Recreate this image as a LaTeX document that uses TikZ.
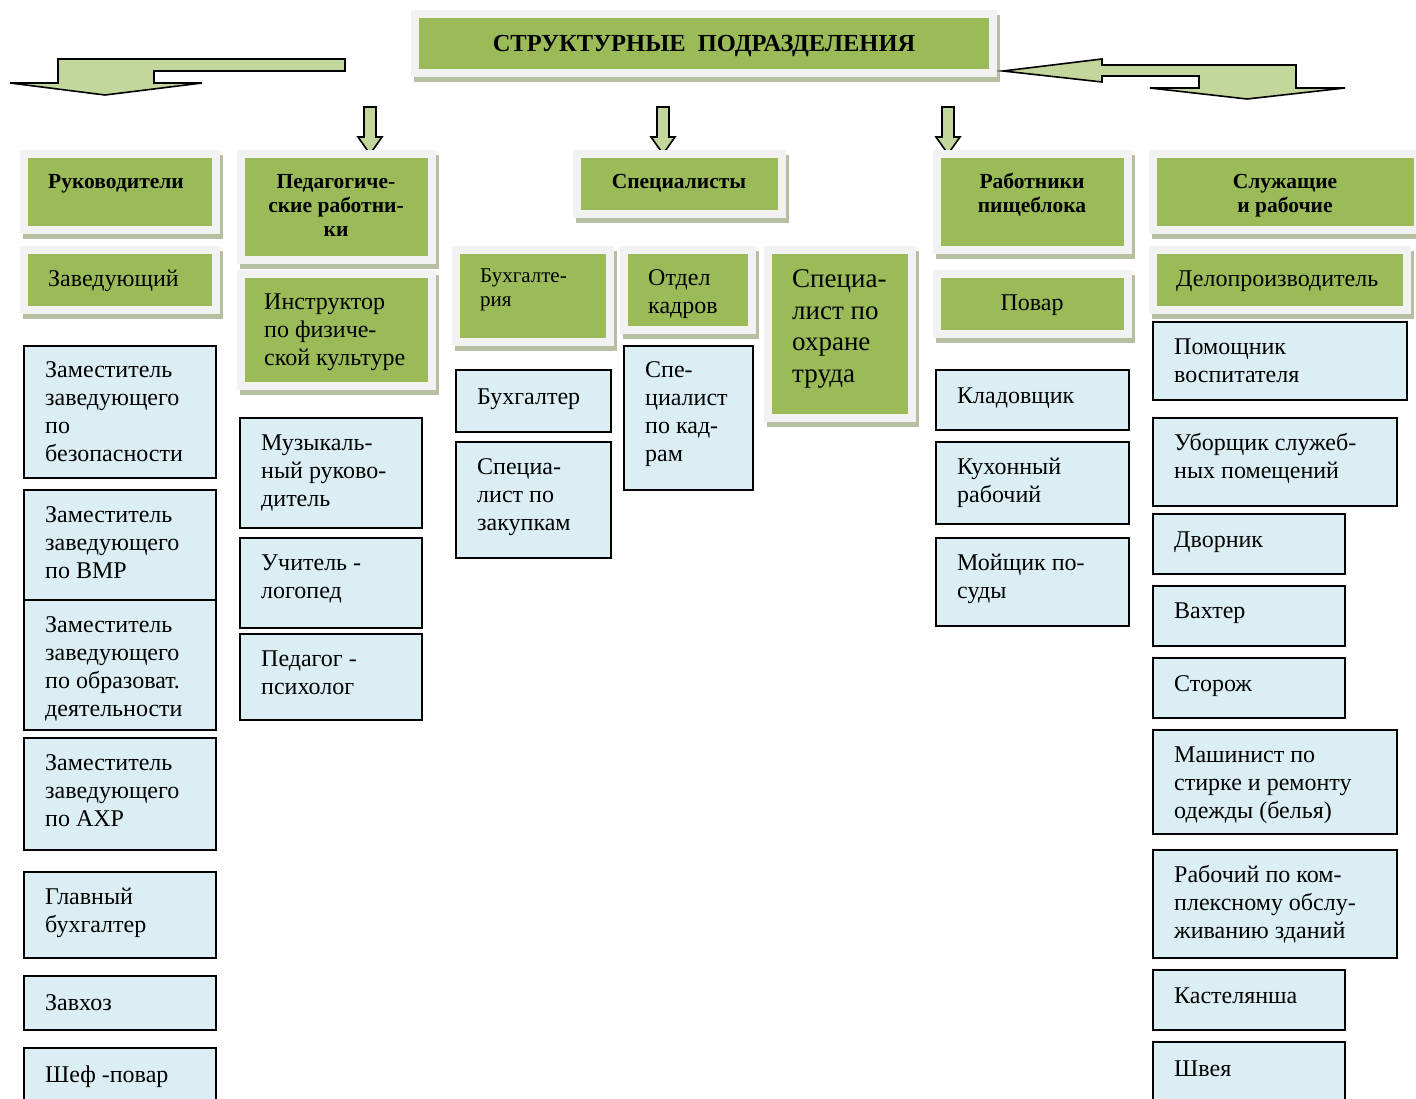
\documentclass[tikz,border=0pt]{standalone}
\usepackage{fontspec}
\setmainfont{Liberation Serif}
\usetikzlibrary{fit}
\definecolor{gr}{HTML}{9BBB59}
\definecolor{frm}{HTML}{F2F2F2}
\definecolor{shd}{HTML}{B7BFA2}
\definecolor{lgr}{HTML}{C3D69B}
\definecolor{bl}{HTML}{DAEEF3}
\tikzset{
  bluerect/.style={draw=black, line width=1.8pt, fill=bl, inner sep=0pt},
  greenrect/.style={fill=gr, inner sep=0pt},
  framerect/.style={fill=frm},
  shadowrect/.style={fill=shd},
  txt/.style={font=\fontsize{24}{27.7}\selectfont, align=left, inner sep=0pt, anchor=north west},
  hdr/.style={font=\bfseries\fontsize{21.5}{24}\selectfont, align=center, inner sep=0pt, anchor=north},
  arr/.style={draw=black, line width=1.6pt, fill=lgr, line join=miter},
}
\newcommand\bluebox[7]{%
  \node[bluerect, fit={(#2,#3) (#4,#5)}] (#1) {};
  \node[txt] (#1-t) at (#2+21,#6-16.6) {\strut#7};}
\newcommand\greenbox[5]{%
  \fill[shadowrect] (#2-5,#3-3) rectangle (#4+11,#5+13);
  \fill[framerect] (#2-8,#3-8) rectangle (#4+8,#5+8);
  \node[greenrect, fit={(#2,#3) (#4,#5)}] (#1) {};}
\newcommand\downarr[2]{%
  \draw[arr] (#2-6,107) -- (#2+6,107) -- (#2+6,137) -- (#2+12,137) -- (#2,154)
     -- (#2-12,137) -- (#2-6,137) -- cycle;
  \coordinate (#1) at (#2,154);}
\begin{document}
\begin{tikzpicture}[x=1pt,y=-1pt]
\useasboundingbox (0,0) rectangle (1416,1099);
\clip (0,0) rectangle (1416,1099);
% title
\greenbox{title}{419}{18}{989}{69}
\node[font=\bfseries\fontsize{24.5}{28}\selectfont, anchor=base, inner sep=0pt] (title-t) at (704,52) {СТРУКТУРНЫЕ\ \ ПОДРАЗДЕЛЕНИЯ};
% big arrows
\draw[arr] (345,59) -- (58,59) -- (58,83) -- (10,83) -- (105,95) -- (202,83)
   -- (154,83) -- (154,71) -- (345,71) -- cycle;
\draw[arr] (1003,71) -- (1102,59) -- (1102,65) -- (1296,65) -- (1296,88) -- (1345,88)
   -- (1247,99) -- (1150,88) -- (1199,88) -- (1199,76) -- (1102,76) -- (1102,82) -- cycle;
\downarr{a1}{370}
\downarr{a2}{663}
\downarr{a3}{948}
% headers
\greenbox{ruk}{28}{158}{212}{226}
\greenbox{ped}{245}{158}{428}{256}
\greenbox{spec}{581}{158}{778}{210}
\greenbox{pish}{941}{158}{1124}{246}
\greenbox{sluzh}{1157}{158}{1414}{226}
\node[hdr] (ruk-t) at (116,171.5) {\strut Руководители};
\node[hdr] (ped-t) at (336,171.5) {\strut Педагогиче-\\ские работни-\\ки};
\node[hdr] (spec-t) at (679,171.5) {\strut Специалисты};
\node[hdr] (pish-t) at (1032,171.5) {\strut Работники\\пищеблока};
\node[hdr] (sluzh-t) at (1285,171.5) {\strut Служащие\\и рабочие};
% second row green
\greenbox{zav}{28}{254}{212}{306}
\greenbox{instr}{245}{278}{428}{382}
\greenbox{buhg}{460}{254}{606}{338}
\greenbox{otdel}{628}{254}{748}{326}
\greenbox{ohr}{772}{254}{908}{414}
\greenbox{povar}{941}{278}{1124}{330}
\greenbox{delo}{1157}{254}{1403}{306}
\node[txt] (zav-t) at (48,267.4) {\strut Заведующий};
\node[txt] (instr-t) at (264,290.4) {\strut Инструктор\\по физиче-\\ской культуре};
\node[txt, font=\fontsize{21}{24.5}\selectfont] (buhg-t) at (480,265) {\strut Бухгалте-\\рия};
\node[txt] (otdel-t) at (648,266.4) {\strut Отдел\\кадров};
\node[txt, font=\fontsize{27}{31.5}\selectfont] (ohr-t) at (792,265.5) {\strut Специа-\\лист по\\охране\\труда};
\node[txt, anchor=north] (povar-t) at (1032,291.4) {\strut Повар};
\node[txt] (delo-t) at (1176,267.4) {\strut Делопроизводитель};
% left column
\bluebox{zam1}{24}{346}{216}{478}{375}{Заместитель\\заведующего\\по\\безопасности}
\bluebox{zam2}{24}{490}{216}{600}{520}{Заместитель\\заведующего\\по ВМР}
\bluebox{zam3}{24}{600}{216}{730}{630}{Заместитель\\заведующего\\по образоват.\\деятельности}
\bluebox{zam4}{24}{738}{216}{850}{768}{Заместитель\\заведующего\\по АХР}
\bluebox{glbuh}{24}{872}{216}{958}{902}{Главный\\бухгалтер}
\bluebox{zavhoz}{24}{976}{216}{1030}{1008}{Завхоз}
\bluebox{shef}{24}{1048}{216}{1120}{1080}{Шеф -повар}
% pedagogical column
\bluebox{muz}{240}{418}{422}{528}{448}{Музыкаль-\\ный руково-\\дитель}
\bluebox{logo}{240}{538}{422}{628}{568}{Учитель -\\логопед}
\bluebox{psih}{240}{634}{422}{720}{664}{Педагог -\\психолог}
% specialists
\bluebox{buh}{456}{370}{611}{432}{402}{Бухгалтер}
\bluebox{zak}{456}{442}{611}{558}{472}{Специа-\\лист по\\закупкам}
\bluebox{kadr}{624}{346}{753}{490}{375}{Спе-\\циалист\\по кад-\\рам}
% food block
\bluebox{klad}{936}{370}{1129}{430}{401}{Кладовщик}
\bluebox{kuh}{936}{442}{1129}{524}{472}{Кухонный\\рабочий}
\bluebox{moy}{936}{538}{1129}{626}{568}{Мойщик по-\\суды}
% right column
\bluebox{pom}{1153}{322}{1407}{400}{352}{Помощник\\воспитателя}
\bluebox{ubor}{1153}{418}{1397}{506}{448}{Уборщик служеб-\\ных помещений}
\bluebox{dvor}{1153}{514}{1345}{574}{545}{Дворник}
\bluebox{vaht}{1153}{586}{1345}{646}{616}{Вахтер}
\bluebox{stor}{1153}{658}{1345}{718}{689}{Сторож}
\bluebox{mash}{1153}{730}{1397}{834}{760}{Машинист по\\стирке и ремонту\\одежды (белья)}
\bluebox{rab}{1153}{850}{1397}{958}{880}{Рабочий по ком-\\плексному обслу-\\живанию зданий}
\bluebox{kast}{1153}{970}{1345}{1030}{1001}{Кастелянша}
\bluebox{shv}{1153}{1042}{1345}{1120}{1074}{Швея}
\end{tikzpicture}
\end{document}
